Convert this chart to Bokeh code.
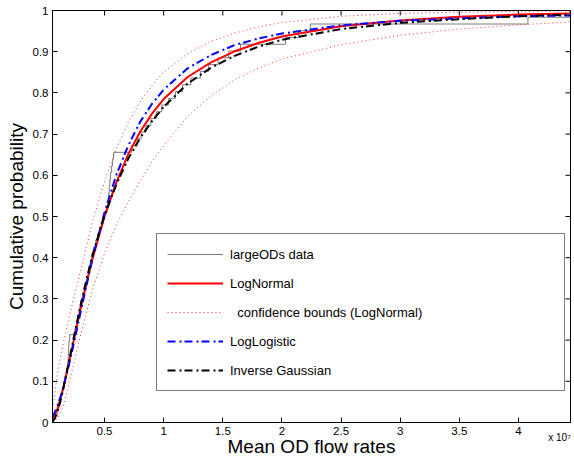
import math
from bokeh.plotting import figure
from bokeh.models import Range1d, FixedTicker, Legend, LegendItem, LinearAxis
from bokeh.embed import file_html
from bokeh.resources import INLINE

# ---- data (x in units of 1e7) ----
flow_samples_e7 = [0.06, 0.10, 0.115, 0.13, 0.145, 0.157, 0.169, 0.181, 0.188, 0.193,
                   0.196, 0.198, 0.205, 0.25, 0.263, 0.274, 0.286, 0.298, 0.315, 0.33,
                   0.345, 0.36, 0.368, 0.38, 0.393, 0.408, 0.425, 0.443, 0.46, 0.478,
                   0.495, 0.52, 0.53, 0.535, 0.54, 0.545, 0.55, 0.56, 0.568, 0.576,
                   0.73, 0.775, 0.81, 0.85, 0.892, 0.937, 0.983, 1.04, 1.10, 1.16,
                   1.23, 1.31, 1.38, 1.46, 1.55, 1.65, 2.03, 2.14, 2.24, 4.08, 4.43]

grid_e7 = [0.06, 0.08, 0.10, 0.125, 0.15, 0.2, 0.25, 0.3, 0.35, 0.4, 0.5, 0.6, 0.7,
           0.8, 0.9, 1.0, 1.2, 1.4, 1.6, 1.8, 2.0, 2.5, 3.0, 3.5, 4.0, 4.44]
lognormal_cdf = [0.007, 0.018, 0.032, 0.055, 0.083, 0.146, 0.213, 0.279, 0.341, 0.399,
                 0.50, 0.583, 0.651, 0.705, 0.749, 0.785, 0.838, 0.874, 0.901, 0.921,
                 0.937, 0.962, 0.976, 0.985, 0.990, 0.993]
lognormal_upper = [0.035, 0.07, 0.115, 0.155, 0.19, 0.255, 0.315, 0.37, 0.43, 0.49,
                   0.585, 0.665, 0.728, 0.778, 0.818, 0.85, 0.895, 0.925, 0.945, 0.96,
                   0.971, 0.986, 0.993, 0.996, 0.998, 0.999]
lognormal_lower = [0.001, 0.004, 0.01, 0.022, 0.04, 0.095, 0.155, 0.215, 0.27, 0.325,
                   0.41, 0.48, 0.535, 0.585, 0.632, 0.672, 0.742, 0.793, 0.832, 0.86,
                   0.882, 0.917, 0.94, 0.955, 0.965, 0.972]
loglogistic_cdf = [0.014, 0.025, 0.039, 0.060, 0.084, 0.141, 0.205, 0.271, 0.336, 0.401,
                   0.51, 0.601, 0.672, 0.729, 0.773, 0.808, 0.859, 0.892, 0.916, 0.932,
                   0.944, 0.964, 0.975, 0.981, 0.986, 0.988]
invgauss_cdf = [0.002, 0.01, 0.024, 0.05, 0.08, 0.15, 0.22, 0.288, 0.35, 0.408,
                0.503, 0.578, 0.64, 0.69, 0.731, 0.766, 0.822, 0.861, 0.89, 0.912,
                0.929, 0.955, 0.97, 0.979, 0.986, 0.99]

x_ticks = [0.5, 1.0, 1.5, 2.0, 2.5, 3.0, 3.5, 4.0]
x_tick_labels = ["0.5", "1", "1.5", "2", "2.5", "3", "3.5", "4"]
y_ticks = [0.0, 0.1, 0.2, 0.3, 0.4, 0.5, 0.6, 0.7, 0.8, 0.9, 1.0]
y_tick_labels = ["0", "0.1", "0.2", "0.3", "0.4", "0.5", "0.6", "0.7", "0.8", "0.9", "1"]
x_multiplier_text = "x 10\u2077"

X_MIN, X_MAX = 0.06, 4.44
Y_MIN, Y_MAX = 0.0, 1.0
MULT_POS = 4.347   # where the "x 10^7" note sits under the axis

# ECDF
n = len(flow_samples_e7)
ecdf_x = [flow_samples_e7[0]] + flow_samples_e7
ecdf_y = [0.0] + [(i + 1) / n for i in range(n)]

FONT = "Liberation Sans"

p = figure(width=574, height=459, x_range=Range1d(X_MIN, X_MAX), y_range=Range1d(Y_MIN, Y_MAX),
           output_backend="svg", toolbar_location=None,
           min_border_left=52, min_border_right=4, min_border_top=10, min_border_bottom=37)
p.grid.visible = False
p.outline_line_color = "black"
p.outline_line_width = 1

for ax in [p.xaxis[0], p.yaxis[0]]:
    ax.major_tick_in = 5
    ax.major_tick_out = 0
    ax.minor_tick_in = 0
    ax.minor_tick_out = 0
    ax.axis_line_color = "black"
    ax.major_tick_line_color = "black"
    ax.major_label_text_font = FONT
    ax.major_label_text_font_size = "11.5px"
    ax.major_label_text_color = "black"
    ax.major_label_standoff = 4

p.xaxis.ticker = FixedTicker(ticks=x_ticks)
p.xaxis.major_label_overrides = {t: l for t, l in zip(x_ticks, x_tick_labels)}
p.yaxis.ticker = FixedTicker(ticks=y_ticks)
p.yaxis.major_label_overrides = {t: l for t, l in zip(y_ticks, y_tick_labels)}
p.yaxis.axis_label = "Cumulative probability"
p.yaxis.axis_label_text_font = FONT
p.yaxis.axis_label_text_font_size = "19px"
p.yaxis.axis_label_text_font_style = "normal"
p.yaxis.axis_label_text_color = "black"
p.yaxis.axis_label_standoff = 3

# second (invisible) bottom axis carrying the "x 10^7" note and the axis title
note_ax = LinearAxis(ticker=FixedTicker(ticks=[MULT_POS]),
                     major_label_overrides={MULT_POS: x_multiplier_text},
                     axis_line_color=None, major_tick_line_color=None,
                     minor_tick_line_color=None, major_tick_in=0, major_tick_out=0,
                     minor_tick_in=0, minor_tick_out=0,
                     major_label_text_font=FONT, major_label_text_font_size="10px",
                     major_label_text_color="black", major_label_standoff=-6,
                     axis_label="Mean OD flow rates", axis_label_text_font=FONT,
                     axis_label_text_font_size="19px", axis_label_text_font_style="normal",
                     axis_label_text_color="black", axis_label_standoff=-10)
p.add_layout(note_ax, "below")

# inward ticks on the top and right edges of the box (half of each dash is clipped)
p.scatter(x_ticks, [Y_MAX] * len(x_ticks), marker="dash", size=10, angle=math.pi / 2,
          line_color="black", line_width=1)
p.scatter([X_MAX] * len(y_ticks), y_ticks, marker="dash", size=10,
          line_color="black", line_width=1)

dashdot = "8 4 2 3"
r_data = p.step(ecdf_x, ecdf_y, mode="after", line_color="#7a7a7a", line_width=1)
r_ln = p.line(grid_e7, lognormal_cdf, line_color="#ff0000", line_width=2)
r_up = p.line(grid_e7, lognormal_upper, line_color="#ff3030", line_width=1, line_dash="1 3")
r_lo = p.line(grid_e7, lognormal_lower, line_color="#ff3030", line_width=1, line_dash="1 3")
r_ll = p.line(grid_e7, loglogistic_cdf, line_color="#0000ff", line_width=2, line_dash=dashdot)
r_ig = p.line(grid_e7, invgauss_cdf, line_color="#000000", line_width=2, line_dash=dashdot)

legend = Legend(items=[
    LegendItem(label="largeODs data", renderers=[r_data]),
    LegendItem(label="LogNormal", renderers=[r_ln]),
    LegendItem(label="\u00a0\u00a0confidence bounds (LogNormal)", renderers=[r_up]),
    LegendItem(label="LogLogistic", renderers=[r_ll]),
    LegendItem(label="Inverse Gaussian", renderers=[r_ig]),
], location=(104, 31))
legend.label_text_font = FONT
legend.label_text_font_size = "13px"
legend.label_text_color = "black"
legend.glyph_width = 56
legend.glyph_height = 20
legend.label_height = 20
legend.label_standoff = 7
legend.label_width = 324
legend.spacing = 9
legend.padding = 10
legend.margin = 0
legend.border_line_color = "black"
legend.border_line_width = 1
legend.background_fill_alpha = 1.0
p.add_layout(legend)

open("out.html", "w").write(file_html(p, INLINE))
